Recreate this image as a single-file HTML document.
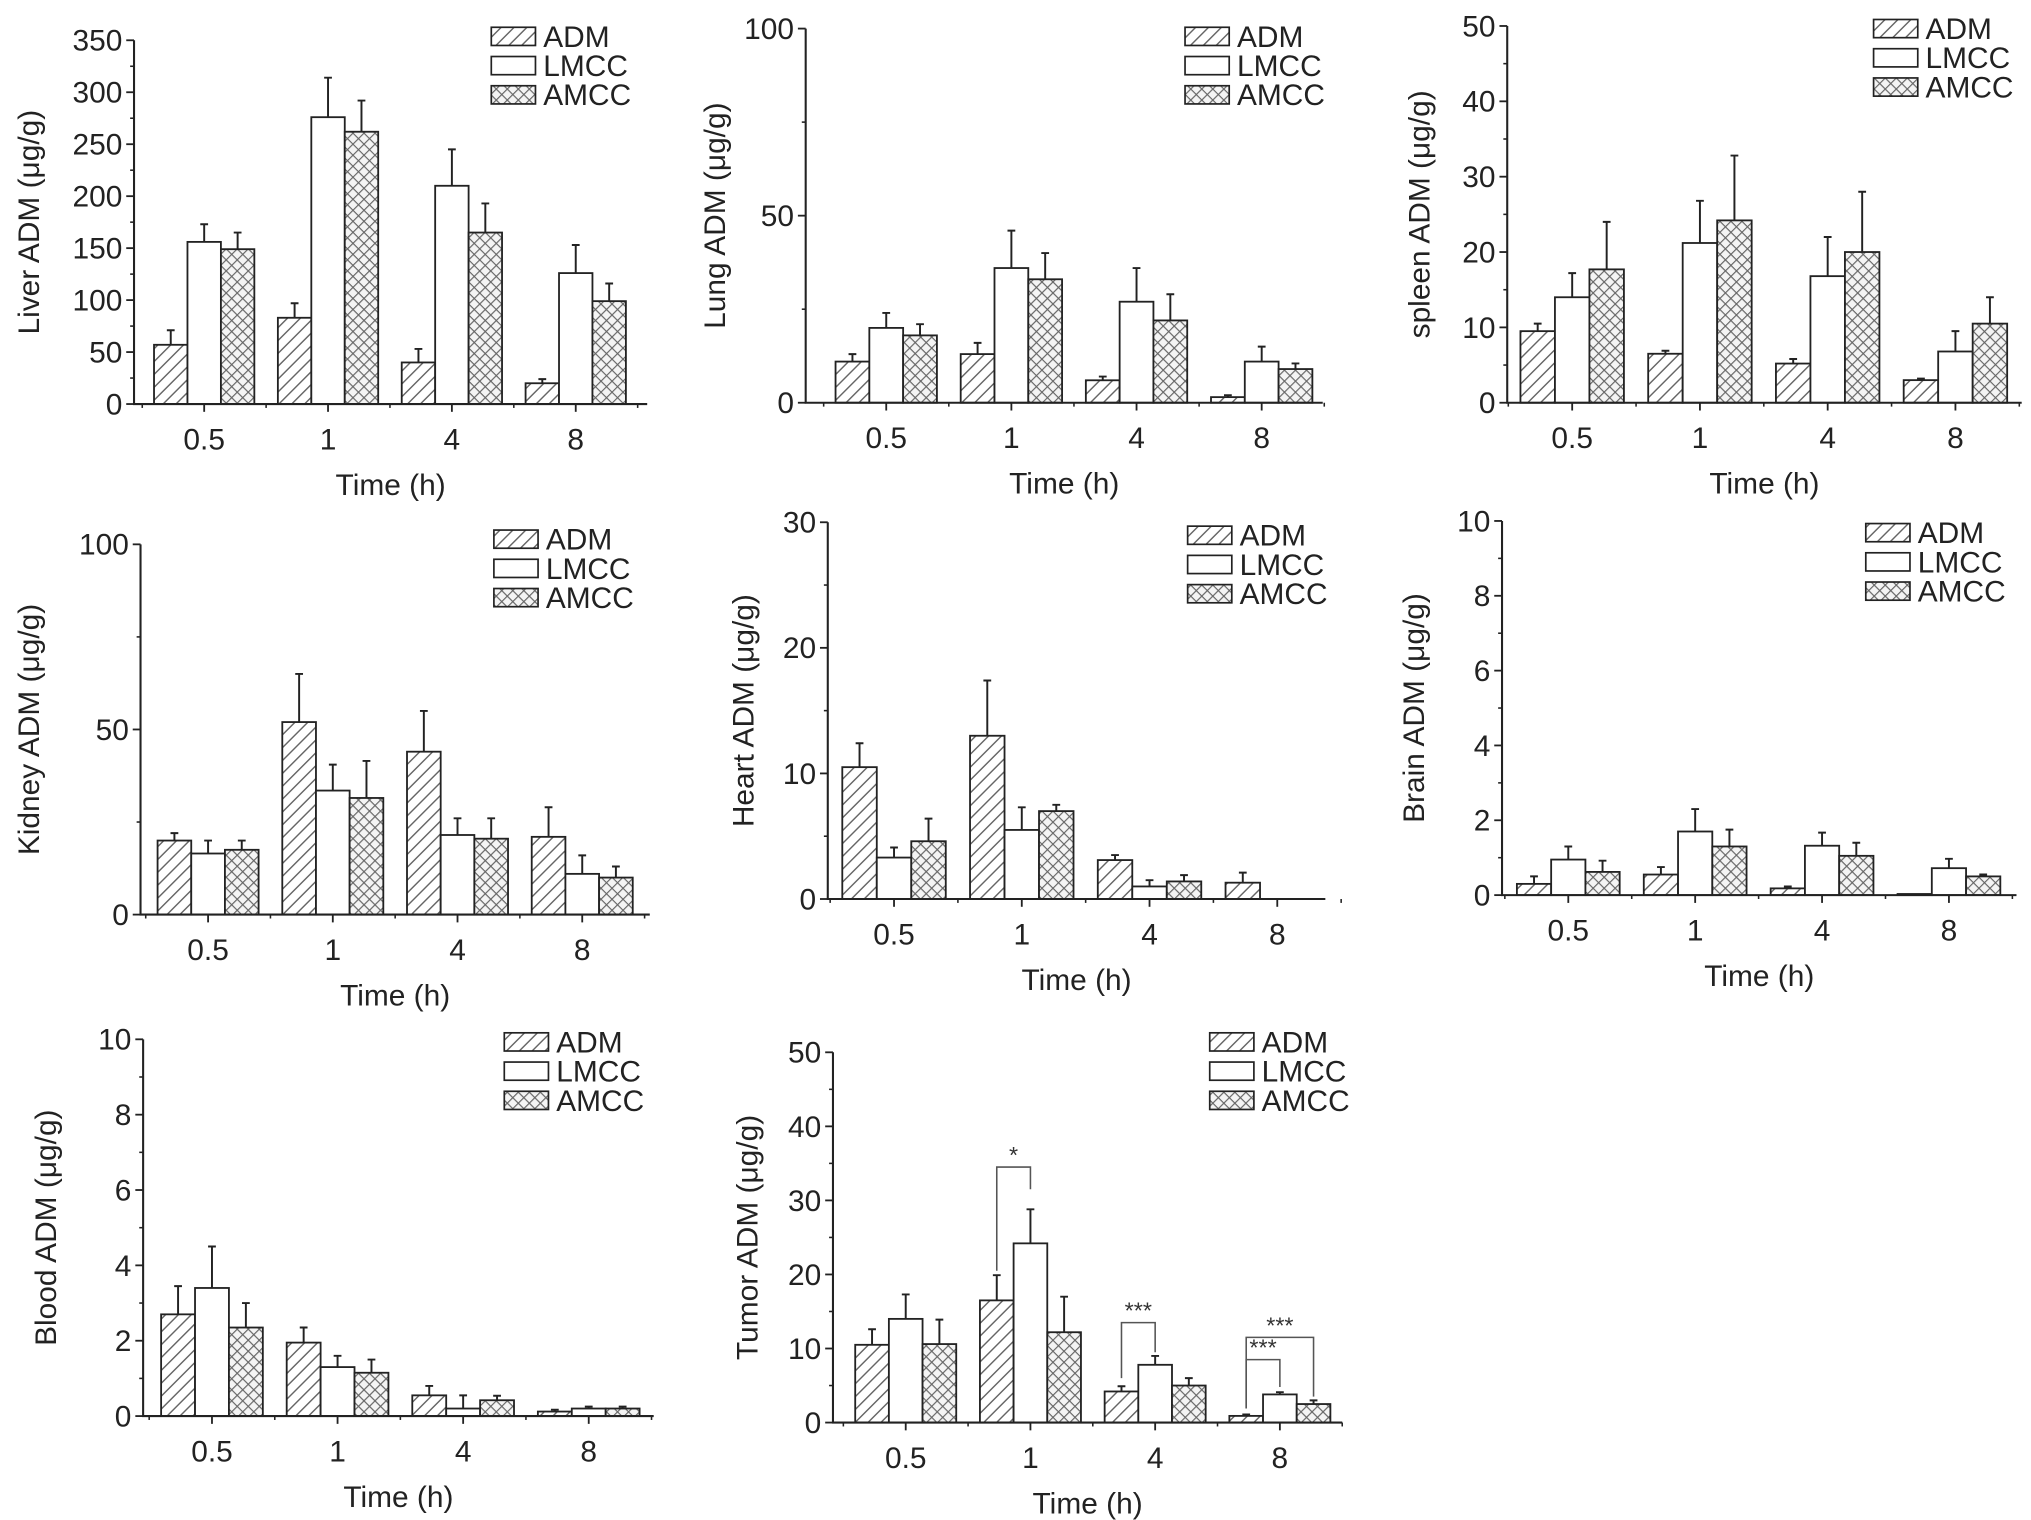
<!DOCTYPE html>
<html><head><meta charset="utf-8"><style>
html,body{margin:0;padding:0;background:#fff;}
svg{display:block;font-family:"Liberation Sans",Arial,sans-serif;}
</style></head><body>
<svg id="fig" width="2031" height="1520" viewBox="0 0 1563 1170" xmlns="http://www.w3.org/2000/svg">
<defs>
<pattern id="hatch" patternUnits="userSpaceOnUse" width="7" height="7" patternTransform="rotate(45)">
<rect width="7" height="7" fill="#fff"/><line x1="0" y1="0" x2="0" y2="7" stroke="#666" stroke-width="2.2"/></pattern>
<pattern id="cross" patternUnits="userSpaceOnUse" width="6" height="6" patternTransform="rotate(45)">
<rect width="6" height="6" fill="#f4f4f4"/><line x1="0" y1="0" x2="0" y2="6" stroke="#666" stroke-width="1.8"/><line x1="0" y1="0" x2="6" y2="0" stroke="#666" stroke-width="1.8"/></pattern>
</defs>
</svg>
<script>
const categories=["0.5","1","4","8"];
const seriesNames=["ADM","LMCC","AMCC"];
const liverADM=[57,83,40,20], liverADMErr=[14,14,13,4];
const liverLMCC=[156,276,210,126], liverLMCCErr=[17,38,35,27];
const liverAMCC=[149,262,165,99], liverAMCCErr=[16,30,28,17];
const lungADM=[11,13,6,1.5], lungADMErr=[2,3,1,0.5];
const lungLMCC=[20,36,27,11], lungLMCCErr=[4,10,9,4];
const lungAMCC=[18,33,22,9], lungAMCCErr=[3,7,7,1.5];
const spleenADM=[9.5,6.5,5.2,3], spleenADMErr=[1,0.4,0.6,0.2];
const spleenLMCC=[14,21.2,16.8,6.8], spleenLMCCErr=[3.2,5.6,5.2,2.7];
const spleenAMCC=[17.7,24.2,20,10.5], spleenAMCCErr=[6.3,8.6,8,3.5];
const kidneyADM=[20,52,44,21], kidneyADMErr=[2,13,11,8];
const kidneyLMCC=[16.5,33.5,21.5,11], kidneyLMCCErr=[3.5,7,4.5,5];
const kidneyAMCC=[17.5,31.5,20.5,10], kidneyAMCCErr=[2.5,10,5.5,3];
const heartADM=[10.5,13,3.1,1.3], heartADMErr=[1.9,4.4,0.4,0.8];
const heartLMCC=[3.3,5.5,1,0], heartLMCCErr=[0.8,1.8,0.5,0];
const heartAMCC=[4.6,7,1.4,0], heartAMCCErr=[1.8,0.5,0.5,0];
const brainADM=[0.3,0.55,0.18,0.03], brainADMErr=[0.2,0.2,0.05,0];
const brainLMCC=[0.95,1.7,1.32,0.72], brainLMCCErr=[0.35,0.6,0.35,0.25];
const brainAMCC=[0.62,1.3,1.05,0.5], brainAMCCErr=[0.3,0.45,0.35,0.05];
const bloodADM=[2.7,1.95,0.55,0.12], bloodADMErr=[0.75,0.4,0.25,0.05];
const bloodLMCC=[3.4,1.3,0.2,0.2], bloodLMCCErr=[1.1,0.3,0.35,0.05];
const bloodAMCC=[2.35,1.15,0.42,0.2], bloodAMCCErr=[0.65,0.35,0.12,0.05];
const tumorADM=[10.5,16.5,4.2,0.9], tumorADMErr=[2.1,3.4,0.7,0.2];
const tumorLMCC=[14,24.2,7.8,3.8], tumorLMCCErr=[3.3,4.6,1.2,0.3];
const tumorAMCC=[10.6,12.2,5,2.5], tumorAMCCErr=[3.3,4.8,1,0.5];
const liverTicks=[0,50,100,150,200,250,300,350];
const lungTicks=[0,50,100];
const spleenTicks=[0,10,20,30,40,50];
const kidneyTicks=[0,50,100];
const heartTicks=[0,10,20,30];
const brainTicks=[0,2,4,6,8,10];
const bloodTicks=[0,2,4,6,8,10];
const tumorTicks=[0,10,20,30,40,50];
// significance brackets: [category, seriesA, seriesB, baseA, top, baseB, label]
const tumorSig=[[1,0,1,20.5,34.5,31.5,"*"],[2,0,1,6,13.5,9.5,"***"],[3,0,2,1.9,11.5,3.5,"***"],[3,0,1,1.9,8.5,4.8,"***"]];

const NS="http://www.w3.org/2000/svg";
const svg=document.getElementById('fig');
function mk(tag,attrs,parent){const e=document.createElementNS(NS,tag);for(const k in attrs)e.setAttribute(k,attrs[k]);(parent||svg).appendChild(e);return e;}
const fills=["url(#hatch)","#fff","url(#cross)"];
const C="#222";
const FS=23;

function panel(cfg){
  const g=mk('g',{});
  
  
  const ymax=cfg.ticks[cfg.ticks.length-1];
  const yS=v=>cfg.y0-(v/ymax)*(cfg.y0-cfg.yTop);
  const xS=i=>cfg.cx[0]+i*(cfg.cx[3]-cfg.cx[0])/3;
  const sp=(cfg.cx[3]-cfg.cx[0])/3, bw=sp*0.27;
  cfg.series.forEach((s,si)=>{
    s.v.forEach((v,i)=>{
      const x=xS(i)+(si-1.5)*bw, y=yS(v);
      const r=mk('rect',{x:x,y:y,width:bw,height:Math.max(0,cfg.y0-y),fill:fills[si],stroke:C,'stroke-width':1.4},g);
      
      
      const e=s.e[i];
      if(e>0){
        const xc=x+bw/2, yt=yS(v+e);
        const eb=mk('path',{d:`M${xc} ${y}V${yt}M${xc-3} ${yt}H${xc+3}`,stroke:C,'stroke-width':1.5,fill:'none'},g);
        
        
      }
    });
  });
  const ax=mk('path',{d:`M${cfg.ax} ${cfg.yTop}V${cfg.y0}H${cfg.xEnd}`,stroke:C,'stroke-width':1.6,fill:'none'},g);
  
  
  const step=cfg.ticks[1]-cfg.ticks[0];
  cfg.ticks.forEach((t,i)=>{
    const y=yS(t);
    mk('line',{x1:cfg.ax-6,x2:cfg.ax,y1:y,y2:y,stroke:C,'stroke-width':1.4},g);
    if(i<cfg.ticks.length-1){const ym=yS(t+step/2);mk('line',{x1:cfg.ax-3,x2:cfg.ax,y1:ym,y2:ym,stroke:C,'stroke-width':1.2},g);}
    const tl=mk('text',{x:cfg.ax-9,y:y+8,'text-anchor':'end','font-size':FS,fill:C},g);
    tl.textContent=t;
    
    
  });
  categories.forEach((c,i)=>{
    const x=xS(i);
    mk('line',{x1:x,x2:x,y1:cfg.y0,y2:cfg.y0+6,stroke:C,'stroke-width':1.4},g);
    mk('line',{x1:x-sp/2,x2:x-sp/2,y1:cfg.y0,y2:cfg.y0+3,stroke:C,'stroke-width':1.2},g);
    const tl=mk('text',{x:x,y:cfg.y0+35,'text-anchor':'middle','font-size':FS,fill:C},g);
    tl.textContent=c;
    
    
  });
  mk('line',{x1:xS(3)+sp/2,x2:xS(3)+sp/2,y1:cfg.y0,y2:cfg.y0+3,stroke:C,'stroke-width':1.2},g);
  const xt=mk('text',{x:(cfg.ax+cfg.xEnd)/2,y:cfg.y0+70,'text-anchor':'middle','font-size':FS,fill:C},g);
  xt.textContent='Time (h)';
  
  
  const ycx=cfg.ylx, ycy=(cfg.yTop+cfg.y0)/2;
  const yt=mk('text',{x:ycx,y:ycy,'text-anchor':'middle','font-size':FS,fill:C,transform:`rotate(-90 ${ycx} ${ycy})`},g);
  yt.textContent=cfg.label+' ADM (\u03bcg/g)';
  
  
  seriesNames.forEach((n,si)=>{
    const ly=cfg.leg[1]+si*22.5;
    const sw=mk('rect',{x:cfg.leg[0],y:ly-7,width:34,height:14,fill:fills[si],stroke:C,'stroke-width':1.3},g);
    
    
    const lt=mk('text',{x:cfg.leg[0]+40,y:ly+8,'font-size':FS,fill:C},g);
    lt.textContent=n;
    
    
  });
  if(cfg.sig){
    cfg.sig.forEach(s=>{
      const xa=xS(s[0])+(s[1]-1)*bw, xb=xS(s[0])+(s[2]-1)*bw;
      const p=mk('path',{d:`M${xa} ${yS(s[3])}V${yS(s[4])}H${xb}V${yS(s[5])}`,stroke:'#555','stroke-width':1.2,fill:'none'},g);
      
      
      const t=mk('text',{x:(xa+xb)/2,y:yS(s[4])-3,'text-anchor':'middle','font-size':18,fill:'#333'},g);
      t.textContent=s[6];
      
      
    });
  }
}

panel({name:'liver',label:'Liver',ticks:liverTicks,ax:103,yTop:31,y0:311,xEnd:498,cx:[157,253,349,443],ylx:30,leg:[378,28],
 series:[{v:liverADM,e:liverADMErr},{v:liverLMCC,e:liverLMCCErr},{v:liverAMCC,e:liverAMCCErr}]});
panel({name:'lung',label:'Lung',ticks:lungTicks,ax:620,yTop:22,y0:310,xEnd:1018,cx:[682,778,874,971],ylx:558,leg:[912,28],
 series:[{v:lungADM,e:lungADMErr},{v:lungLMCC,e:lungLMCCErr},{v:lungAMCC,e:lungAMCCErr}]});
panel({name:'spleen',label:'spleen',ticks:spleenTicks,ax:1160,yTop:20,y0:310,xEnd:1556,cx:[1210,1309,1406,1505],ylx:1100,leg:[1442,22],
 series:[{v:spleenADM,e:spleenADMErr},{v:spleenLMCC,e:spleenLMCCErr},{v:spleenAMCC,e:spleenAMCCErr}]});
panel({name:'kidney',label:'Kidney',ticks:kidneyTicks,ax:108,yTop:419,y0:704,xEnd:500,cx:[160,256,352,448],ylx:30,leg:[380,415],
 series:[{v:kidneyADM,e:kidneyADMErr},{v:kidneyLMCC,e:kidneyLMCCErr},{v:kidneyAMCC,e:kidneyAMCCErr}]});
panel({name:'heart',label:'Heart',ticks:heartTicks,ax:637,yTop:402,y0:692,xEnd:1020,cx:[688,788,884,983],ylx:580,leg:[914,412],
 series:[{v:heartADM,e:heartADMErr},{v:heartLMCC,e:heartLMCCErr},{v:heartAMCC,e:heartAMCCErr}]});
panel({name:'brain',label:'Brain',ticks:brainTicks,ax:1156,yTop:401,y0:689,xEnd:1552,cx:[1207,1306,1403,1500],ylx:1096,leg:[1436,410],
 series:[{v:brainADM,e:brainADMErr},{v:brainLMCC,e:brainLMCCErr},{v:brainAMCC,e:brainAMCCErr}]});
panel({name:'blood',label:'Blood',ticks:bloodTicks,ax:110,yTop:800,y0:1090,xEnd:503,cx:[163,257,354,453],ylx:43,leg:[388,802],
 series:[{v:bloodADM,e:bloodADMErr},{v:bloodLMCC,e:bloodLMCCErr},{v:bloodAMCC,e:bloodAMCCErr}]});
panel({name:'tumor',label:'Tumor',ticks:tumorTicks,ax:641,yTop:810,y0:1095,xEnd:1033,cx:[697,790,887,985],ylx:583,leg:[931,802],sig:tumorSig,
 series:[{v:tumorADM,e:tumorADMErr},{v:tumorLMCC,e:tumorLMCCErr},{v:tumorAMCC,e:tumorAMCCErr}]});
</script>
</body></html>
